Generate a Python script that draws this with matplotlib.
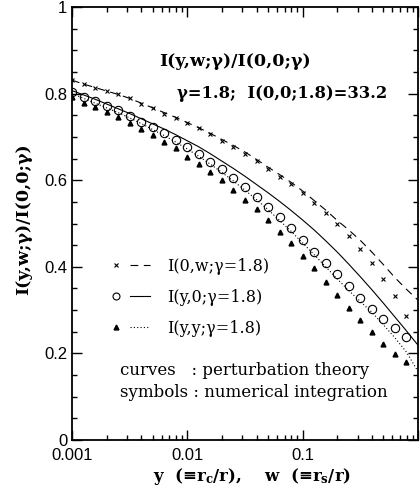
import numpy as np
import matplotlib
matplotlib.use("Agg")
import matplotlib.pyplot as plt
from matplotlib.lines import Line2D
from matplotlib.legend_handler import HandlerTuple
from matplotlib.ticker import MultipleLocator, FixedLocator, FuncFormatter

plt.rcParams['mathtext.fontset'] = 'dejavuserif'

# grid of y (or w) values: ten points per decade, 0.001 .. 1
k = np.arange(31)
x_grid = 10.0 ** (-3 + k / 10.0)

# numerical integration (symbols), k = 0..29
cross_vals = [0.831, 0.822, 0.814, 0.806, 0.798, 0.789, 0.777, 0.766, 0.754, 0.743,
              0.731, 0.720, 0.706, 0.690, 0.676, 0.661, 0.644, 0.625, 0.608, 0.591,
              0.570, 0.547, 0.524, 0.499, 0.470, 0.441, 0.408, 0.372, 0.333, 0.287]
circle_vals = [0.804, 0.793, 0.783, 0.771, 0.761, 0.748, 0.735, 0.722, 0.708, 0.693,
               0.677, 0.661, 0.643, 0.625, 0.604, 0.584, 0.562, 0.539, 0.514, 0.489,
               0.463, 0.435, 0.408, 0.383, 0.356, 0.327, 0.302, 0.279, 0.258, 0.237]
tri_vals = [0.791, 0.779, 0.770, 0.757, 0.745, 0.731, 0.718, 0.704, 0.689, 0.674,
            0.654, 0.637, 0.620, 0.600, 0.577, 0.554, 0.533, 0.508, 0.481, 0.454,
            0.425, 0.397, 0.366, 0.335, 0.306, 0.277, 0.249, 0.222, 0.199, 0.181]

# perturbation theory (curves), k = 0..30
dash_vals = [0.831, 0.822, 0.814, 0.806, 0.798, 0.789, 0.778, 0.767, 0.756, 0.745,
             0.733, 0.721, 0.708, 0.694, 0.680, 0.665, 0.648, 0.630, 0.613, 0.595,
             0.575, 0.553, 0.531, 0.507, 0.485, 0.461, 0.434, 0.405, 0.375, 0.348, 0.323]
solid_vals = [0.807, 0.797, 0.787, 0.776, 0.765, 0.754, 0.742, 0.730, 0.718, 0.705,
              0.691, 0.677, 0.661, 0.644, 0.627, 0.609, 0.590, 0.571, 0.551, 0.530,
              0.508, 0.485, 0.460, 0.434, 0.406, 0.377, 0.347, 0.316, 0.284, 0.252, 0.219]
dot_vals = [0.800, 0.789, 0.778, 0.767, 0.756, 0.744, 0.731, 0.717, 0.703, 0.688,
            0.672, 0.655, 0.637, 0.618, 0.598, 0.577, 0.555, 0.532, 0.507, 0.482,
            0.455, 0.428, 0.400, 0.372, 0.345, 0.320, 0.295, 0.266, 0.236, 0.203, 0.158]

labels = ['I(0,w;γ=1.8)', 'I(y,0;γ=1.8)', 'I(y,y;γ=1.8)']

fig = plt.figure(figsize=(4.2, 4.95), dpi=100)
ax = fig.add_axes([72 / 420, 55 / 495, 346 / 420, 433 / 495])

lw = 0.8
ax.plot(x_grid, dash_vals, color='k', lw=lw, ls=(0, (7, 5)))
ax.plot(x_grid, solid_vals, color='k', lw=lw, ls='-')
ax.plot(x_grid, dot_vals, color='k', lw=lw, ls=(0, (1, 2)))

n = len(cross_vals)
ax.plot(x_grid[:n], cross_vals, ls='none', marker='x', ms=3.5, mew=0.8, color='k')
ax.plot(x_grid[:n], circle_vals, ls='none', marker='o', ms=6, mew=0.8,
        mfc='none', mec='k')
ax.plot(x_grid[:n], tri_vals, ls='none', marker='^', ms=3.5, color='k')

ax.set_xscale('log')
ax.set_xlim(0.001, 1)
ax.set_ylim(0, 1)
ax.xaxis.set_major_locator(FixedLocator([0.001, 0.01, 0.1, 1]))
ax.xaxis.set_major_formatter(FuncFormatter(lambda v, p: '' if v >= 1 else f'{v:g}'))
ax.yaxis.set_major_locator(MultipleLocator(0.2))
ax.yaxis.set_minor_locator(MultipleLocator(0.05))
ax.yaxis.set_major_formatter(FuncFormatter(lambda v, p: f'{v:.1f}'.rstrip('0').rstrip('.') if v not in (0, 1) else f'{v:.0f}'))
ax.tick_params(which='both', direction='in', top=True, right=True, width=1)
ax.tick_params(which='major', length=7, labelsize=12)
ax.tick_params(axis='x', which='major', pad=6)
ax.tick_params(which='minor', length=3.5)
for lab in ax.get_xticklabels() + ax.get_yticklabels():
    lab.set_fontfamily('Liberation Sans')
for sp in ax.spines.values():
    sp.set_linewidth(1.3)

ax.set_xlabel(r'y  (≡r$_{\bf c}$/r),    w  (≡r$_{\bf s}$/r)', family='DejaVu Serif',
              fontweight='bold', fontsize=12)
ax.xaxis.set_label_coords(0.52, -0.06)
ax.set_ylabel('I(y,w;γ)/I(0,0;γ)', family='DejaVu Serif',
              fontweight='bold', fontsize=12.5)
ax.yaxis.set_label_coords(-0.115, 0.51)

ax.text(0.471, 0.875, 'I(y,w;γ)/I(0,0;γ)',
        transform=ax.transAxes, ha='center', va='center',
        family='DejaVu Serif', fontweight='bold', fontsize=12.5)
ax.text(0.607, 0.80, 'γ=1.8;  I(0,0;1.8)=33.2', transform=ax.transAxes,
        ha='center', va='center', family='DejaVu Serif', fontweight='bold',
        fontsize=11.8)

h_marks = [Line2D([], [], ls='none', marker='x', ms=3.5, mew=0.8, color='k'),
           Line2D([], [], ls='none', marker='o', ms=5, mew=0.8, mfc='none', mec='k'),
           Line2D([], [], ls='none', marker='^', ms=3.5, color='k')]
h_lines = [Line2D([], [], color='k', lw=lw, ls=(0, (7, 5))),
           Line2D([], [], color='k', lw=lw, ls='-'),
           Line2D([], [], color='k', lw=lw, ls=(0, (1, 2)))]
leg = ax.legend([(m, l) for m, l in zip(h_marks, h_lines)], labels,
                handler_map={tuple: HandlerTuple(ndivide=None, pad=0.2)},
                loc='center left', bbox_to_anchor=(0.058, 0.33), frameon=False,
                handlelength=2.7, handletextpad=1.1, labelspacing=0.88,
                prop={'family': 'DejaVu Serif', 'size': 11.5})

ax.text(0.138, 0.16, 'curves   : perturbation theory', transform=ax.transAxes,
        ha='left', va='center', family='DejaVu Serif', fontsize=12)
ax.text(0.138, 0.11, 'symbols : numerical integration', transform=ax.transAxes,
        ha='left', va='center', family='DejaVu Serif', fontsize=12)

fig.savefig('out.png', dpi=100)
